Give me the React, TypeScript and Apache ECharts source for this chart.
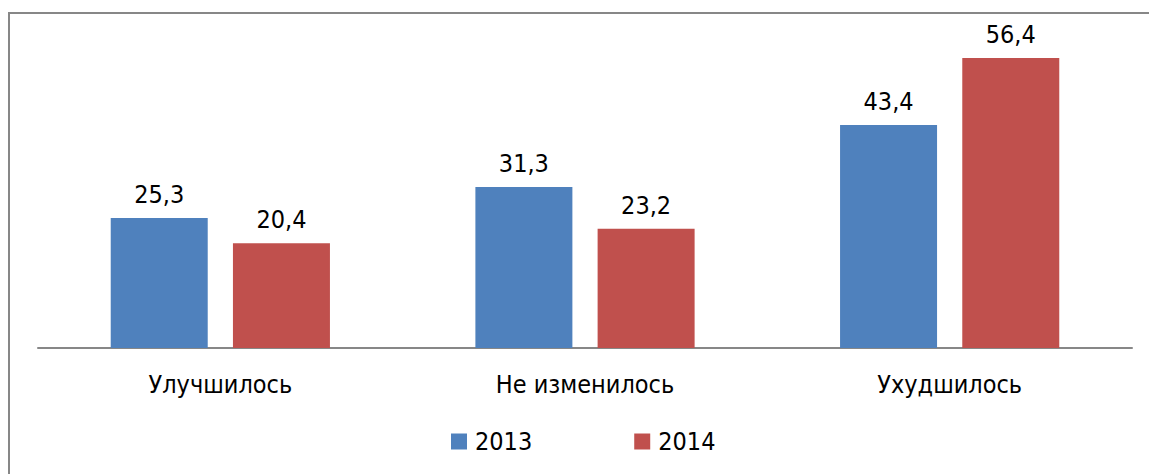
import React, { useEffect, useRef } from "react";
import * as echarts from "echarts";

const categories = ["Улучшилось", "Не изменилось", "Ухудшилось"];
const values2013 = [25.3, 31.3, 43.4];
const values2014 = [20.4, 23.2, 56.4];
const seriesNames = ["2013", "2014"];

const FONT = "'DejaVu Sans Condensed', sans-serif";
const FS = 25;

export default function App() {
  const ref = useRef<HTMLDivElement>(null);
  useEffect(() => {
    if (!ref.current) return;
    const chart = echarts.init(ref.current, undefined, { renderer: "svg" });
    const label = {
      show: true,
      position: "top",
      distance: 11,
      color: "#000",
      fontSize: FS,
      fontFamily: FONT,
      formatter: (p: any) => String(p.value).replace(".", ","),
    };
    chart.setOption({
      animation: false,
      textStyle: { fontFamily: FONT },
      grid: { left: 38, right: 17, top: 39.6, bottom: 126 },
      xAxis: {
        type: "category",
        data: categories,
        axisLine: { lineStyle: { color: "#878787", width: 2 } },
        axisTick: { show: false },
        axisLabel: { color: "#000", fontSize: FS, fontFamily: FONT, margin: 24 },
      },
      yAxis: {
        type: "value",
        min: 0,
        max: 60,
        show: false,
        splitLine: { show: false },
      },
      legend: {
        data: seriesNames,
        left: 446,
        top: 424,
        itemWidth: 16,
        itemHeight: 16,
        itemGap: 102,
        icon: "rect",
        textStyle: { color: "#000", fontSize: FS, fontFamily: FONT, padding: [0, 0, 0, 3] },
      },
      graphic: [
        {
          type: "rect",
          shape: { x: 9, y: 13, width: 1300, height: 600 },
          style: { fill: "none", stroke: "#878787", lineWidth: 2 },
          silent: true,
        },
      ],
      series: [
        {
          name: seriesNames[0],
          type: "bar",
          data: values2013,
          barWidth: 97,
          barGap: "26%",
          itemStyle: { color: "#4F81BD" },
          label,
        },
        {
          name: seriesNames[1],
          type: "bar",
          data: values2014,
          barWidth: 97,
          barGap: "26%",
          itemStyle: { color: "#C0504D" },
          label,
        },
      ],
    });
    return () => chart.dispose();
  }, []);
  return (
    <div
      ref={ref}
      style={{ position: "absolute", left: 0, top: 0, width: 1149, height: 474 }}
    />
  );
}
